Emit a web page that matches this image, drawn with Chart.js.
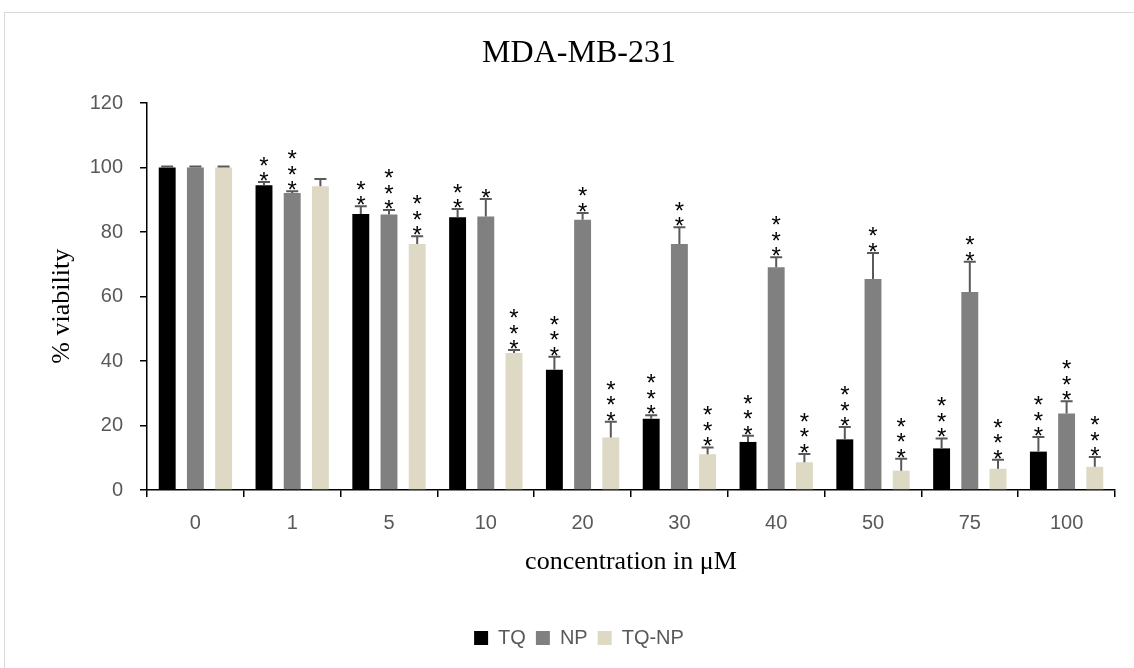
<!DOCTYPE html>
<html>
<head>
<meta charset="utf-8">
<script src="https://cdn.jsdelivr.net/npm/chart.js"></script>
<style>
  html, body { margin: 0; padding: 0; background: #fff; overflow: hidden; }
  #frame { position: absolute; left: 4px; top: 12px; width: 1152px; height: 700px; border: 1px solid #d9d9d9; }
  #wrap { position: absolute; left: 0; top: 0; width: 1152px; height: 655px; }
</style>
</head>
<body>
<div id="frame"><div id="wrap"><canvas id="myChart"></canvas></div></div>
<script>
const concentrations = ["0", "1", "5", "10", "20", "30", "40", "50", "75", "100"];
const yTicks = [0, 20, 40, 60, 80, 100, 120];

const tqValues   = [100, 94.5, 85.6, 84.6, 37.3, 22.1, 14.9, 15.7, 12.9, 11.9];
const tqErr      = [0.3, 1.0, 2.4, 2.5, 4.0, 1.1, 1.9, 3.8, 3.1, 4.5];
const tqStars    = [0, 2, 2, 2, 3, 3, 3, 3, 3, 3];

const npValues   = [100, 92.1, 85.4, 84.8, 83.8, 76.3, 69.1, 65.4, 61.4, 23.7];
const npErr      = [0.3, 0.5, 1.4, 5.4, 2.1, 5.2, 3.1, 8.1, 9.4, 3.8];
const npStars    = [0, 3, 3, 1, 2, 2, 3, 2, 2, 3];

const tqnpValues = [100, 94.2, 76.3, 42.5, 16.3, 11.1, 8.6, 6.0, 6.6, 7.2];
const tqnpErr    = [0.3, 2.2, 2.4, 0.9, 4.9, 2.1, 2.6, 3.7, 2.8, 3.0];
const tqnpStars  = [0, 0, 3, 3, 3, 3, 3, 3, 3, 3];

const errors = [tqErr, npErr, tqnpErr];
const stars = [tqStars, npStars, tqnpStars];

// error bars (upper half only) and the significance stars above them
const errorBarPlugin = {
  id: 'errorBars',
  afterDatasetsDraw(chart) {
    const ctx = chart.ctx;
    const yScale = chart.scales.y;
    ctx.save();
    chart.data.datasets.forEach((ds, i) => {
      const meta = chart.getDatasetMeta(i);
      meta.data.forEach((bar, j) => {
        const top = yScale.getPixelForValue(ds.data[j] + errors[i][j]);
        const base = yScale.getPixelForValue(ds.data[j]);
        ctx.strokeStyle = '#595959';
        ctx.lineWidth = 2;
        ctx.beginPath();
        ctx.moveTo(bar.x, base);
        ctx.lineTo(bar.x, top);
        ctx.moveTo(bar.x - 6, top);
        ctx.lineTo(bar.x + 6, top);
        ctx.stroke();

        ctx.fillStyle = '#000';
        ctx.font = '24px "Liberation Sans"';
        ctx.textAlign = 'center';
        ctx.textBaseline = 'alphabetic';
        for (let k = 0; k < stars[i][j]; k++) {
          const cy = top - 6.7 - k * 15.5;
          ctx.fillText('*', bar.x, cy + 13.7);
        }
      });
    });
    ctx.restore();
  }
};

const tickFont = { family: 'Liberation Sans', size: 20 };

new Chart("myChart", {
  type: "bar",
  data: {
    labels: concentrations,
    datasets: [
      { label: "TQ", data: tqValues, backgroundColor: "#000000", borderWidth: 0 },
      { label: "NP", data: npValues, backgroundColor: "#808080", borderWidth: 0 },
      { label: "TQ-NP", data: tqnpValues, backgroundColor: "#ddd9c4", borderWidth: 0 }
    ]
  },
  options: {
    responsive: true,
    maintainAspectRatio: false,
    animation: false,
    datasets: { bar: { categoryPercentage: 0.874, barPercentage: 0.6 } },
    layout: { padding: { left: 38, right: 42, top: 0, bottom: 10 } },
    plugins: {
      title: {
        display: true,
        text: "MDA-MB-231",
        color: "#000",
        font: { family: "Liberation Serif", size: 32, weight: "normal" },
        padding: { top: 21, bottom: 30.6 }
      },
      legend: {
        position: "bottom",
        labels: { boxWidth: 14, boxHeight: 14, color: "#595959", font: tickFont }
      },
      tooltip: { enabled: false }
    },
    scales: {
      x: {
        grid: { display: true, drawOnChartArea: false, tickLength: 7, color: "#000", lineWidth: 1.5 },
        border: { color: "#000", width: 1.5 },
        ticks: { color: "#595959", padding: 14, font: tickFont },
        title: {
          display: true,
          text: "concentration in μM",
          color: "#000",
          font: { family: "Liberation Serif", size: 26, lineHeight: 1 },
          padding: { top: 0, bottom: 43 }
        }
      },
      y: {
        min: yTicks[0],
        max: yTicks[yTicks.length - 1],
        afterFit: (s) => { s.width = 104; },
        grid: { display: true, drawOnChartArea: false, tickLength: 7, color: "#000", lineWidth: 1.5 },
        border: { color: "#000", width: 1.5 },
        ticks: { stepSize: yTicks[1] - yTicks[0], color: "#595959", padding: 17, font: tickFont },
        title: {
          display: true,
          text: "% viability\u00a0\u00a0\u00a0",
          color: "#000",
          font: { family: "Liberation Serif", size: 26 },
          padding: { top: 4, bottom: 4 }
        }
      }
    }
  },
  plugins: [errorBarPlugin]
});
</script>
</body>
</html>
